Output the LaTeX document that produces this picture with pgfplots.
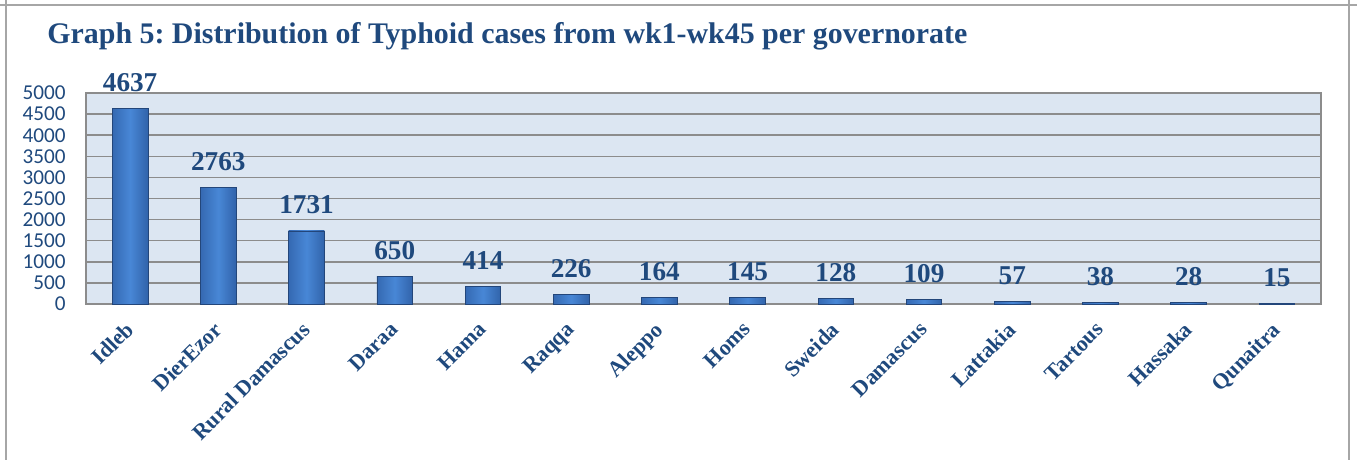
\documentclass[border=0pt]{standalone}
\usepackage{fontspec}
\setmainfont{Liberation Serif}
\newfontfamily\carlito{Carlito}
\usepackage{pgfplots}
\pgfplotsset{compat=1.18}
\frenchspacing
\definecolor{txtblue}{HTML}{1F497D}
\definecolor{bgblue}{HTML}{DCE6F2}
\definecolor{gridgray}{HTML}{8C8C8C}
\definecolor{barleft}{HTML}{3569B2}
\definecolor{barmid}{HTML}{4887D6}
\definecolor{barright}{HTML}{3163AA}
\definecolor{bardraw}{HTML}{23467A}
\definecolor{framegray}{HTML}{A6A6A6}
\pgfplotsset{mybar/.style={ybar, bar width=17.8pt, draw=bardraw, line width=0.4pt,
  left color=barleft, right color=barright, middle color=barmid,
  nodes near coords,
  every node near coord/.append style={font=\fontsize{13.6}{15}\selectfont\bfseries, text=txtblue, anchor=base, inner sep=0pt, yshift=8.5pt, shade=false, fill=none, draw=none}}}
\begin{document}
\begin{tikzpicture}[x=1pt,y=1pt]
\useasboundingbox (0,0) rectangle (678.5,230);
\draw[framegray, line width=1pt] (0,227.5) -- (678.5,227.5);
\draw[framegray, line width=1pt] (3,0) -- (3,230);
\draw[framegray, line width=1pt] (674.5,0) -- (674.5,230);
\node[anchor=base west, inner sep=0pt, font=\fontsize{14.95}{17}\selectfont\bfseries, text=txtblue] at (23.5,208) {Graph 5: Distribution of Typhoid cases from wk1-wk45 per governorate};
\begin{axis}[
  at={(43pt,78pt)}, anchor=south west,
  width=617.5pt, height=105.5pt, scale only axis,
  xmin=-0.5, xmax=13.5, ymin=0, ymax=5000,
  xtick={0,...,13},
  xticklabels={Idleb,DierEzor,Rural Damascus,Daraa,Hama,Raqqa,Aleppo,Homs,Sweida,Damascus,Lattakia,Tartous,Hassaka,Qunaitra},
  ytick={0,500,...,5000},
  ymajorgrids,
  grid style={gridgray, line width=0.75pt},
  axis line style={gridgray, line width=0.75pt},
  tick style={draw=none},
  axis background/.style={fill=bgblue},
  /pgf/number format/1000 sep={},
  /pgf/number format/assume math mode=true,
  yticklabel style={font=\carlito\fontsize{10.6}{12}\selectfont, text=txtblue, inner sep=0pt, xshift=-10pt},
  xticklabel style={font=\fontsize{11}{13}\selectfont\bfseries, text=txtblue, inner sep=0pt, xshift=-3pt, yshift=-8pt, rotate=45, anchor=north east},
  clip=false,
]
\addplot[mybar] coordinates {(0,4637)};
\addplot[mybar] coordinates {(1,2763)};
\addplot[mybar] coordinates {(2,1731)};
\addplot[mybar] coordinates {(3,650)};
\addplot[mybar] coordinates {(4,414)};
\addplot[mybar] coordinates {(5,226)};
\addplot[mybar] coordinates {(6,164)};
\addplot[mybar] coordinates {(7,145)};
\addplot[mybar] coordinates {(8,128)};
\addplot[mybar] coordinates {(9,109)};
\addplot[mybar] coordinates {(10,57)};
\addplot[mybar] coordinates {(11,38)};
\addplot[mybar] coordinates {(12,28)};
\addplot[mybar] coordinates {(13,15)};
\end{axis}
\end{tikzpicture}
\end{document}
